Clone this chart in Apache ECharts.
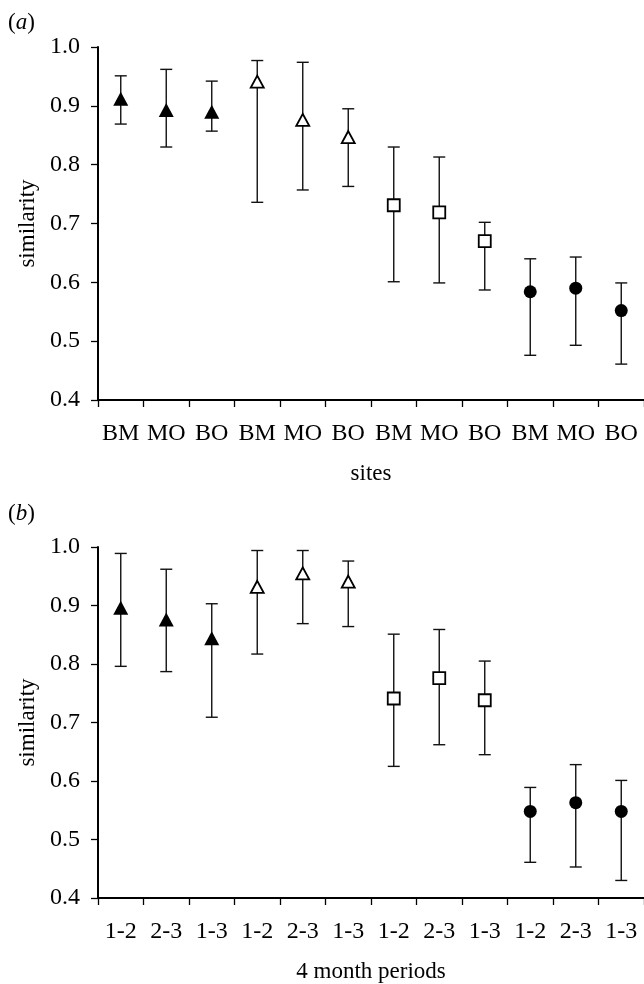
<!DOCTYPE html>
<html>
<head>
<meta charset="utf-8">
<script src="https://cdn.jsdelivr.net/npm/echarts@6/dist/echarts.min.js"></script>
<style>
html,body{margin:0;padding:0;background:#fff;}
#chart{width:644px;height:984px;}
</style>
</head>
<body>
<div id="chart"></div>
<script>
const sitesCats = ['BM','MO','BO','BM','MO','BO','BM','MO','BO','BM','MO','BO'];
const periodCats = ['1-2','2-3','1-3','1-2','2-3','1-3','1-2','2-3','1-3','1-2','2-3','1-3'];
const yTicks = [0.4, 0.5, 0.6, 0.7, 0.8, 0.9, 1.0];

const meanA = [0.912, 0.893, 0.890, 0.941, 0.876, 0.847, 0.731, 0.719, 0.670, 0.584, 0.590, 0.552];
const lowA  = [0.869, 0.830, 0.857, 0.736, 0.757, 0.763, 0.601, 0.599, 0.587, 0.476, 0.493, 0.461];
const highA = [0.951, 0.962, 0.942, 0.977, 0.974, 0.895, 0.830, 0.813, 0.702, 0.640, 0.643, 0.599];

const meanB = [0.896, 0.876, 0.844, 0.932, 0.955, 0.941, 0.741, 0.776, 0.738, 0.548, 0.563, 0.548];
const lowB  = [0.796, 0.787, 0.709, 0.817, 0.869, 0.864, 0.625, 0.662, 0.645, 0.461, 0.453, 0.430];
const highB = [0.989, 0.962, 0.903, 0.994, 0.994, 0.976, 0.851, 0.859, 0.805, 0.589, 0.628, 0.601];

// marker group of each category (0: filled triangle, 1: open triangle, 2: open square, 3: filled circle)
const groupOf = [0, 0, 0, 1, 1, 1, 2, 2, 2, 3, 3, 3];

const FONT = 'Liberation Serif';
const markerStyles = [
  { symbol: 'triangle', symbolSize: [15, 14], itemStyle: { color: '#000', borderWidth: 0, opacity: 1 } },
  { symbol: 'triangle', symbolSize: [13, 12], itemStyle: { color: '#fff', borderColor: '#000', borderWidth: 1.8, opacity: 1 } },
  { symbol: 'rect', symbolSize: [12, 12], itemStyle: { color: '#fff', borderColor: '#000', borderWidth: 1.8, opacity: 1 } },
  { symbol: 'circle', symbolSize: 13, itemStyle: { color: '#000', borderWidth: 0, opacity: 1 } }
];

function xAxisCfg(gi, cats, name) {
  return {
    type: 'category', gridIndex: gi, data: cats,
    name: name, nameLocation: 'middle', nameGap: 62,
    nameTextStyle: { fontFamily: FONT, fontSize: 23, color: '#000' },
    axisLine: { show: true, lineStyle: { color: '#000', width: 2 } },
    axisTick: { show: true, length: 7, lineStyle: { color: '#000', width: 1.3 } },
    axisLabel: { interval: 0, margin: 22, fontFamily: FONT, fontSize: 24, color: '#000' },
    splitLine: { show: false }
  };
}
function yAxisCfg(gi) {
  return {
    type: 'value', gridIndex: gi, min: yTicks[0], max: yTicks[yTicks.length - 1], interval: 0.1,
    name: 'similarity', nameLocation: 'middle', nameGap: 57,
    nameTextStyle: { fontFamily: FONT, fontSize: 23, color: '#000' },
    axisLine: { show: true, lineStyle: { color: '#000', width: 2 } },
    axisTick: { show: true, length: 7, lineStyle: { color: '#000', width: 1.3 } },
    axisLabel: { margin: 18, fontFamily: FONT, fontSize: 24, color: '#000',
      formatter: v => v.toFixed(1) },
    splitLine: { show: false }
  };
}

function errSeries(gi, low, high) {
  return {
    type: 'custom', xAxisIndex: gi, yAxisIndex: gi, z: 2,
    data: low.map((l, i) => [i, l, high[i]]),
    renderItem: function (params, api) {
      const x = api.value(0);
      const lo = api.coord([x, api.value(1)]);
      const hi = api.coord([x, api.value(2)]);
      const hw = 6;
      const st = { stroke: '#111', lineWidth: 1.4 };
      return {
        type: 'group',
        children: [
          { type: 'line', shape: { x1: lo[0], y1: lo[1], x2: hi[0], y2: hi[1] }, style: st },
          { type: 'line', shape: { x1: lo[0] - hw, y1: lo[1], x2: lo[0] + hw, y2: lo[1] }, style: st },
          { type: 'line', shape: { x1: hi[0] - hw, y1: hi[1], x2: hi[0] + hw, y2: hi[1] }, style: st }
        ]
      };
    }
  };
}

function markerSeries(gi, mean) {
  const out = [];
  for (let g = 0; g < markerStyles.length; g++) {
    const data = [];
    mean.forEach((v, i) => { if (groupOf[i] === g) data.push([i, v]); });
    out.push(Object.assign({
      type: 'scatter', xAxisIndex: gi, yAxisIndex: gi, z: 5, data: data, silent: true
    }, markerStyles[g]));
  }
  return out;
}

const panelLabel = (letter, top) => ({
  type: 'text', left: 8, top: top,
  style: {
    text: '{n|(}{i|' + letter + '}{n|)}',
    rich: {
      n: { fontFamily: FONT, fontSize: 23, fill: '#000' },
      i: { fontFamily: FONT, fontSize: 23, fontStyle: 'italic', fill: '#000' }
    }
  }
});

const chart = echarts.init(document.getElementById('chart'), null, { renderer: 'canvas' });
chart.setOption({
  animation: false,
  backgroundColor: '#fff',
  grid: [
    { left: 98, top: 47, right: 0, height: 353 },
    { left: 98, top: 547, right: 0, height: 355 }
  ],
  xAxis: [xAxisCfg(0, sitesCats, 'sites'), xAxisCfg(1, periodCats, '4 month periods')],
  yAxis: [yAxisCfg(0), yAxisCfg(1)],
  graphic: [panelLabel('a', 11), panelLabel('b', 502)],
  series: [
    errSeries(0, lowA, highA),
    errSeries(1, lowB, highB),
    ...markerSeries(0, meanA),
    ...markerSeries(1, meanB)
  ]
});
</script>
</body>
</html>
